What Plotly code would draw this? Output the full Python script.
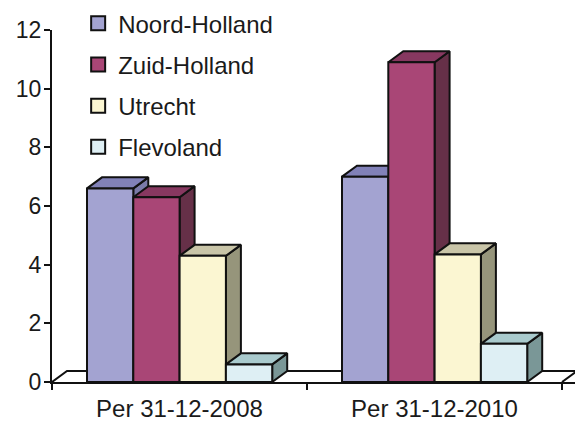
import plotly.graph_objects as go

periods = ["Per 31-12-2008", "Per 31-12-2010"]
provinces = ["Noord-Holland", "Zuid-Holland", "Utrecht", "Flevoland"]
noord_holland = [6.6, 7.0]
zuid_holland = [6.3, 10.9]
utrecht = [4.3, 4.35]
flevoland = [0.6, 1.3]
series_values = [noord_holland, zuid_holland, utrecht, flevoland]

front_colors = ["#A3A3D1", "#A94676", "#FBF6D2", "#DEEFF4"]
top_colors = ["#8181B8", "#873860", "#C9C5A8", "#A9CACD"]
side_colors = ["#7A7AA8", "#663048", "#96957B", "#7A9797"]

BAR_W = 46.3 / 255
GROUP_START = 35 / 255
DX = 15 / 255
DY = 11 / 29.25
EDGE = "#111111"

fig = go.Figure()


def poly(xs, ys, fill):
    fig.add_trace(go.Scatter(
        x=xs + xs[:1], y=ys + ys[:1], mode="lines", fill="toself", fillcolor=fill,
        line=dict(color=EDGE, width=2), showlegend=False, hoverinfo="skip"))


# floor
x_end = 2 + DX
fig.add_trace(go.Scatter(x=[0, DX, x_end, 2], y=[0, DY, DY, 0], mode="lines",
                         line=dict(color=EDGE, width=2), showlegend=False, hoverinfo="skip"))

for p in range(len(periods)):
    for s, vals in enumerate(series_values):
        v = vals[p]
        x0 = p + GROUP_START + s * BAR_W
        x1 = x0 + BAR_W
        poly([x1, x1 + DX, x1 + DX, x1], [0, DY, v + DY, v], side_colors[s])
        poly([x0, x1, x1 + DX, x0 + DX], [v, v, v + DY, v + DY], top_colors[s])
        poly([x0, x1, x1, x0], [0, 0, v, v], front_colors[s])

for name, col in zip(provinces, front_colors):
    fig.add_trace(go.Scatter(
        x=[None], y=[None], mode="markers", name=name, legendgroup=name,
        marker=dict(symbol="square", size=14, color=col, line=dict(color=EDGE, width=2))))

fig.update_layout(
    width=575, height=421,
    margin=dict(l=52, r=0, t=30, b=39),
    paper_bgcolor="white", plot_bgcolor="white",
    font=dict(family="Liberation Sans, Arial, sans-serif", size=24, color="#1a1a1a"),
    showlegend=True,
    legend=dict(x=0.05, y=1.082, xanchor="left", yanchor="top", bgcolor="rgba(0,0,0,0)",
                tracegroupgap=7, itemwidth=30, font=dict(size=24)),
    xaxis=dict(range=[0, 523 / 255], tickvals=[0.5, 1.5], ticktext=periods, ticks="outside",
               ticklen=0, ticklabelstandoff=4, showgrid=False, zeroline=False, showline=True,
               linecolor=EDGE, linewidth=2, automargin=False,
               minor=dict(tick0=0, dtick=1, ticks="outside", ticklen=6, tickcolor=EDGE, tickwidth=2)),
    yaxis=dict(range=[0, 12], tick0=0, dtick=2, ticks="outside", ticklen=6, tickcolor=EDGE, tickwidth=2,
               ticklabelstandoff=-2, tickfont=dict(size=23),
               showgrid=False, zeroline=False, showline=True, linecolor=EDGE, linewidth=2),
)
fig.write_html("out.html", config={"displayModeBar": False},
               post_script="document.body.style.margin='0';document.documentElement.style.overflow='hidden';")
